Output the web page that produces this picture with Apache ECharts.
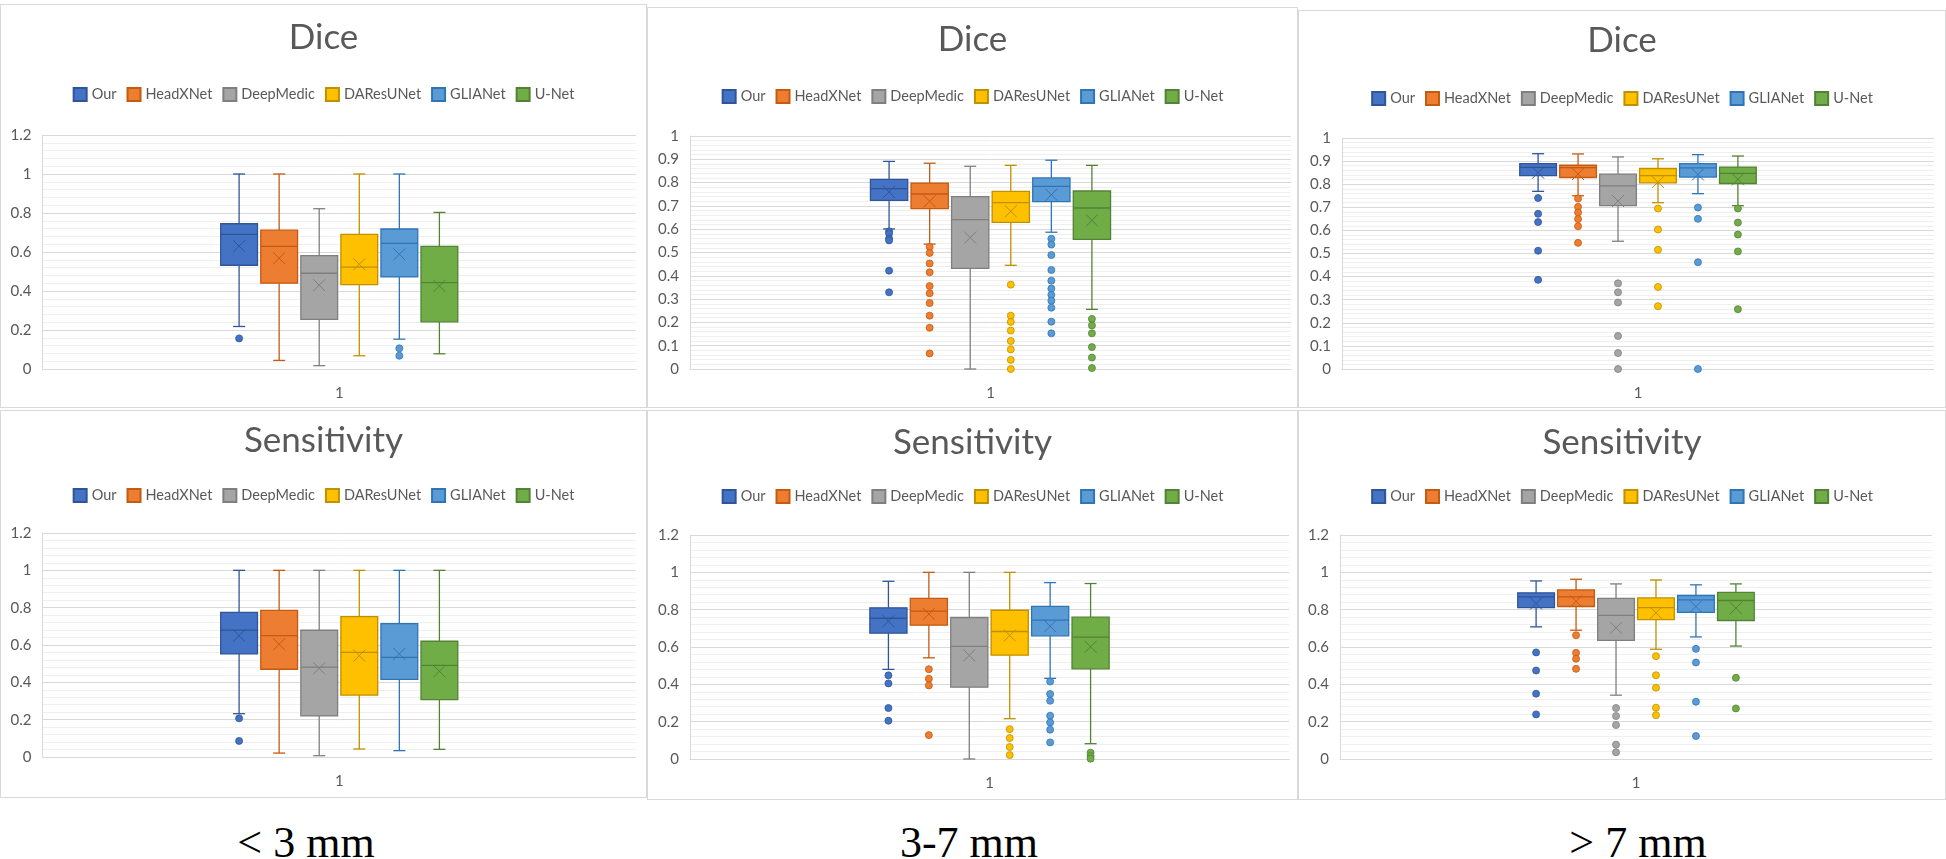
<!DOCTYPE html>
<html>
<head>
<meta charset="utf-8">
<script src="https://cdn.jsdelivr.net/npm/echarts@6/dist/echarts.min.js"></script>
<style>
  body { margin: 0; width: 1946px; height: 859px; background: #fff; position: relative; overflow: hidden; }
  .panel { position: absolute; box-sizing: border-box; border: 1px solid #d9d9d9; background: #fff; }
  .size { position: absolute; top: 821px; width: 300px; margin-left: -150px; text-align: center;
          font-family: "Liberation Serif", "DejaVu Serif", serif; font-size: 44px; line-height: 44px; color: #000; }
</style>
</head>
<body>
<div class="size" style="left:306px">&lt; 3 mm</div>
<div class="size" style="left:969px">3-7 mm</div>
<div class="size" style="left:1638px">&gt; 7 mm</div>
<script>
var methods = ['Our', 'HeadXNet', 'DeepMedic', 'DAResUNet', 'GLIANet', 'U-Net'];
var fills = ['#4472C4', '#ED7D31', '#A5A5A5', '#FFC000', '#5B9BD5', '#70AD47'];
var darks = ['#2F5597', '#C55A11', '#7F7F7F', '#BF9000', '#2E75B6', '#548235'];
var xCategories = ['1'];

// box stats per method: [min, q1, median, q3, max, mean]
var diceSmallStats = [
  [0.218, 0.532, 0.690, 0.745, 1.0, 0.630],
  [0.044, 0.440, 0.629, 0.712, 1.0, 0.568],
  [0.017, 0.254, 0.491, 0.581, 0.822, 0.430],
  [0.068, 0.433, 0.522, 0.690, 1.0, 0.537],
  [0.153, 0.472, 0.644, 0.718, 1.0, 0.588],
  [0.078, 0.242, 0.443, 0.629, 0.803, 0.426]
];
var diceSmallOut = [[0.157], [], [], [], [0.106, 0.068], []];

var diceMidStats = [
  [0.601, 0.724, 0.774, 0.814, 0.891, 0.760],
  [0.536, 0.688, 0.751, 0.798, 0.883, 0.720],
  [0.0, 0.432, 0.641, 0.740, 0.870, 0.564],
  [0.445, 0.629, 0.714, 0.762, 0.874, 0.677],
  [0.587, 0.718, 0.784, 0.820, 0.896, 0.748],
  [0.256, 0.556, 0.691, 0.764, 0.874, 0.638]
];
var diceMidOut = [
  [0.591, 0.582, 0.560, 0.552, 0.422, 0.329],
  [0.524, 0.498, 0.453, 0.415, 0.356, 0.325, 0.283, 0.229, 0.177, 0.067],
  [],
  [0.362, 0.229, 0.202, 0.165, 0.120, 0.084, 0.039, 0.0],
  [0.559, 0.534, 0.489, 0.425, 0.379, 0.345, 0.318, 0.293, 0.263, 0.203, 0.153],
  [0.215, 0.187, 0.153, 0.094, 0.049, 0.004]
];

var diceLargeStats = [
  [0.769, 0.837, 0.873, 0.889, 0.932, 0.850],
  [0.750, 0.829, 0.872, 0.882, 0.931, 0.844],
  [0.553, 0.707, 0.793, 0.844, 0.918, 0.727],
  [0.720, 0.806, 0.837, 0.868, 0.910, 0.809],
  [0.759, 0.831, 0.871, 0.889, 0.928, 0.842],
  [0.707, 0.803, 0.847, 0.874, 0.922, 0.821]
];
var diceLargeOut = [
  [0.740, 0.672, 0.636, 0.512, 0.386],
  [0.738, 0.702, 0.678, 0.649, 0.618, 0.546],
  [0.371, 0.332, 0.288, 0.143, 0.069, 0.0],
  [0.695, 0.604, 0.516, 0.355, 0.272],
  [0.699, 0.650, 0.462, 0.0],
  [0.695, 0.634, 0.582, 0.509, 0.259]
];

var sensSmallStats = [
  [0.232, 0.552, 0.680, 0.775, 1.0, 0.650],
  [0.021, 0.470, 0.650, 0.786, 1.0, 0.604],
  [0.007, 0.220, 0.482, 0.679, 1.0, 0.475],
  [0.043, 0.332, 0.561, 0.752, 1.0, 0.543],
  [0.034, 0.416, 0.534, 0.714, 1.0, 0.552],
  [0.041, 0.307, 0.491, 0.620, 1.0, 0.459]
];
var sensSmallOut = [[0.207, 0.086], [], [], [], [], []];

var sensMidStats = [
  [0.480, 0.674, 0.754, 0.810, 0.952, 0.738],
  [0.542, 0.717, 0.792, 0.860, 1.0, 0.777],
  [0.0, 0.385, 0.603, 0.758, 1.0, 0.555],
  [0.216, 0.556, 0.683, 0.797, 1.0, 0.662],
  [0.432, 0.660, 0.744, 0.818, 0.945, 0.711],
  [0.082, 0.483, 0.653, 0.760, 0.940, 0.601]
];
var sensMidOut = [
  [0.448, 0.405, 0.273, 0.205],
  [0.481, 0.430, 0.394, 0.128],
  [],
  [0.160, 0.112, 0.064, 0.021],
  [0.415, 0.348, 0.312, 0.232, 0.196, 0.157, 0.089],
  [0.034, 0.016, 0.002]
];

var sensLargeStats = [
  [0.708, 0.811, 0.868, 0.890, 0.954, 0.833],
  [0.690, 0.817, 0.868, 0.906, 0.963, 0.845],
  [0.342, 0.635, 0.769, 0.861, 0.938, 0.703],
  [0.588, 0.747, 0.811, 0.863, 0.959, 0.783],
  [0.654, 0.785, 0.852, 0.876, 0.933, 0.817],
  [0.605, 0.742, 0.849, 0.893, 0.938, 0.808]
];
var sensLargeOut = [
  [0.571, 0.474, 0.350, 0.239],
  [0.663, 0.569, 0.537, 0.483],
  [0.273, 0.230, 0.182, 0.077, 0.036],
  [0.551, 0.449, 0.382, 0.275, 0.235],
  [0.590, 0.517, 0.307, 0.123],
  [0.435, 0.271]
];

// page layout: div box [x, y, w, h], grid box [x, y, w, h], title / legend centre y (page coords)
var panels = [
  {title: 'Dice', stats: diceSmallStats, out: diceSmallOut, max: 1.2, step: 0.2,
   box: [0, 4, 647, 404], grid: [41.5, 134, 593.5, 234], titleY: 40, legendY: 93},
  {title: 'Dice', stats: diceMidStats, out: diceMidOut, max: 1, step: 0.1,
   box: [647, 7, 651, 401], grid: [689, 135, 601, 233], titleY: 42, legendY: 95},
  {title: 'Dice', stats: diceLargeStats, out: diceLargeOut, max: 1, step: 0.1,
   box: [1298, 10, 648, 398], grid: [1341, 137, 592, 231], titleY: 43, legendY: 97},
  {title: 'Sensitivity', stats: sensSmallStats, out: sensSmallOut, max: 1.2, step: 0.2,
   box: [0, 410, 647, 388], grid: [41.5, 532, 593.5, 224], titleY: 443, legendY: 494},
  {title: 'Sensitivity', stats: sensMidStats, out: sensMidOut, max: 1.2, step: 0.2,
   box: [647, 410, 651, 390], grid: [689, 534, 599, 224], titleY: 445, legendY: 495},
  {title: 'Sensitivity', stats: sensLargeStats, out: sensLargeOut, max: 1.2, step: 0.2,
   box: [1298, 410, 648, 390], grid: [1339, 534, 592, 224], titleY: 445, legendY: 495}
];

var BOX_W = 0.062;     // in x-axis units (axis runs 0..1)
var SLOT = 0.0675;     // distance between box centres
var font = 'Lato, "Open Sans", sans-serif';

function slotX(i) {
  return 0.5 + (i - 2.5) * SLOT;
}

function makeRender(fill, dark) {
  return function (params, api) {
    var x = api.value(0);
    var lo = api.coord([x, api.value(1)]);
    var q1 = api.coord([x, api.value(2)]);
    var md = api.coord([x, api.value(3)]);
    var q3 = api.coord([x, api.value(4)]);
    var hi = api.coord([x, api.value(5)]);
    var mn = api.coord([x, api.value(6)]);
    var half = api.size([BOX_W, 0])[0] / 2;
    var cx = lo[0], cap = 6, xs = 6;
    var ln = {stroke: dark, lineWidth: 1.3};
    return {
      type: 'group',
      children: [
        {type: 'line', shape: {x1: cx, y1: lo[1], x2: cx, y2: q1[1]}, style: ln},
        {type: 'line', shape: {x1: cx, y1: hi[1], x2: cx, y2: q3[1]}, style: ln},
        {type: 'line', shape: {x1: cx - cap, y1: lo[1], x2: cx + cap, y2: lo[1]}, style: ln},
        {type: 'line', shape: {x1: cx - cap, y1: hi[1], x2: cx + cap, y2: hi[1]}, style: ln},
        {type: 'rect', shape: {x: cx - half, y: q3[1], width: half * 2, height: q1[1] - q3[1]},
         style: {fill: fill, stroke: dark, lineWidth: 1.3}},
        {type: 'line', shape: {x1: cx - half, y1: md[1], x2: cx + half, y2: md[1]}, style: ln},
        {type: 'line', shape: {x1: cx - xs, y1: mn[1] - xs, x2: cx + xs, y2: mn[1] + xs}, style: {stroke: dark, lineWidth: 1}},
        {type: 'line', shape: {x1: cx - xs, y1: mn[1] + xs, x2: cx + xs, y2: mn[1] - xs}, style: {stroke: dark, lineWidth: 1}}
      ]
    };
  };
}

panels.forEach(function (p, k) {
  var div = document.createElement('div');
  div.className = 'panel';
  div.style.left = p.box[0] + 'px';
  div.style.top = p.box[1] + 'px';
  div.style.width = p.box[2] + 'px';
  div.style.height = p.box[3] + 'px';
  document.body.appendChild(div);

  var series = [];
  methods.forEach(function (name, i) {
    var s = p.stats[i];
    series.push({
      name: name,
      type: 'custom',
      xAxisIndex: 1,
      renderItem: makeRender(fills[i], darks[i]),
      itemStyle: {color: fills[i], borderColor: darks[i], borderWidth: 1},
      encode: {x: 0, y: [1, 2, 3, 4, 5, 6]},
      data: [[slotX(i), s[0], s[1], s[2], s[3], s[4], s[5]]],
      z: 3
    });
    series.push({
      name: name,
      type: 'scatter',
      xAxisIndex: 1,
      symbolSize: 7,
      itemStyle: {color: fills[i], borderColor: darks[i], borderWidth: 0.8, opacity: 1},
      data: p.out[i].map(function (v) { return [slotX(i), v]; }),
      z: 4
    });
  });

  var ox = p.box[0], oy = p.box[1];
  var chart = echarts.init(div, null, {renderer: 'canvas'});
  chart.setOption({
    animation: false,
    title: {
      text: p.title,
      left: 'center',
      top: p.titleY - oy - 21,
      padding: 0,
      textStyle: {fontFamily: font, fontSize: 35, fontWeight: 'normal', color: '#595959'}
    },
    legend: {
      data: methods,
      left: 'center',
      top: p.legendY - oy - 7,
      padding: 0,
      icon: 'rect',
      itemWidth: 13,
      itemHeight: 13,
      itemGap: 10,
      textStyle: {fontFamily: font, fontSize: 14.5, color: '#595959'}
    },
    grid: {
      left: p.grid[0] - ox,
      top: p.grid[1] - oy,
      width: p.grid[2],
      height: p.grid[3]
    },
    xAxis: [
      {
        type: 'category',
        data: xCategories,
        axisLine: {lineStyle: {color: '#d9d9d9'}},
        axisTick: {show: false},
        axisLabel: {margin: 17, fontFamily: font, fontSize: 15, color: '#595959'},
        splitLine: {show: false}
      },
      {type: 'value', min: 0, max: 1, show: false}
    ],
    yAxis: {
      type: 'value',
      min: 0,
      max: p.max,
      interval: p.step,
      axisLine: {show: true, lineStyle: {color: '#d9d9d9'}},
      axisTick: {show: false},
      axisLabel: {margin: 11, fontFamily: font, fontSize: 15, color: '#595959'},
      splitLine: {lineStyle: {color: '#d9d9d9', width: 1}},
      minorTick: {show: false, splitNumber: 5},
      minorSplitLine: {show: true, lineStyle: {color: '#efefef', width: 1}}
    },
    series: series
  });
});
</script>
</body>
</html>
